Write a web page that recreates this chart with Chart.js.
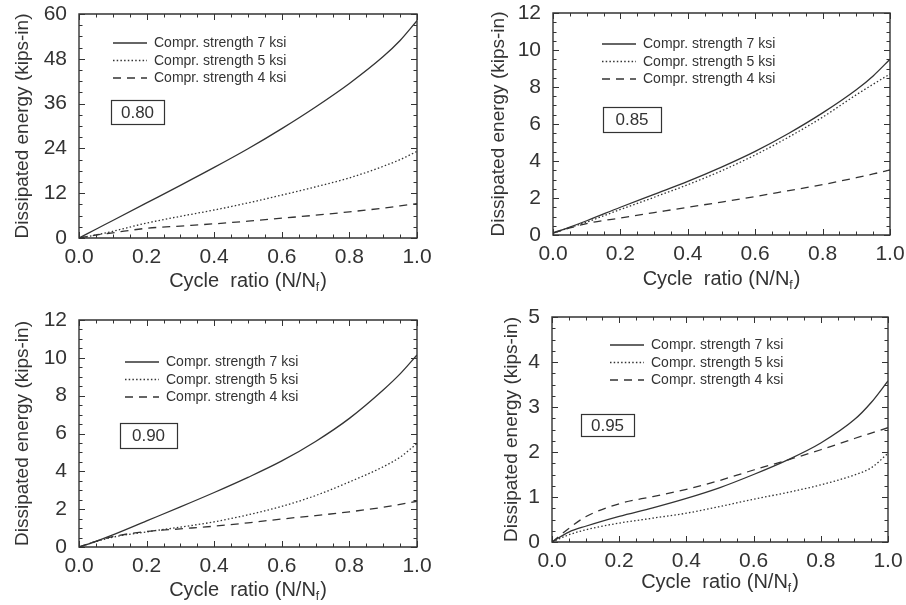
<!DOCTYPE html>
<html>
<head>
<meta charset="utf-8">
<script src="https://cdn.jsdelivr.net/npm/chart.js@4.4.1/dist/chart.umd.min.js"></script>
<style>
  html, body { margin: 0; padding: 0; background: #ffffff; }
  body { width: 906px; height: 605px; position: relative; overflow: hidden; }
  .panel { position: absolute; }
</style>
</head>
<body>
<div class="panel" style="left:0;top:0;width:453px;height:300px"><canvas id="c1"></canvas></div>
<div class="panel" style="left:453px;top:0;width:453px;height:300px"><canvas id="c2"></canvas></div>
<div class="panel" style="left:0;top:300px;width:453px;height:305px"><canvas id="c3"></canvas></div>
<div class="panel" style="left:453px;top:300px;width:453px;height:305px"><canvas id="c4"></canvas></div>
<script>
// ---------- data ----------
const cycleRatio = [0, 0.05, 0.1, 0.2, 0.3, 0.4, 0.5, 0.6, 0.7, 0.8, 0.9, 0.95, 1.0];
const seriesNames = ['Compr. strength 7 ksi', 'Compr. strength 5 ksi', 'Compr. strength 4 ksi'];
const stressLabels = ['0.80', '0.85', '0.90', '0.95'];

// Stress level 0.80
const s080_7ksi = [0, 2.35, 4.7, 9.4, 14.1, 18.9, 23.9, 29.3, 35.1, 41.4, 48.6, 52.9, 58.2];
const s080_5ksi = [0, 0.8, 1.8, 4.0, 5.8, 7.5, 9.4, 11.5, 13.7, 16.1, 19.2, 21.0, 23.2];
const s080_4ksi = [0, 0.8, 1.4, 2.6, 3.2, 3.8, 4.5, 5.3, 6.1, 7.0, 8.0, 8.6, 9.2];
// Stress level 0.85
const s085_7ksi = [0.12, 0.43, 0.77, 1.5, 2.2, 2.9, 3.67, 4.52, 5.5, 6.6, 7.85, 8.6, 9.5];
const s085_5ksi = [0.1, 0.4, 0.7, 1.38, 2.04, 2.72, 3.47, 4.33, 5.3, 6.37, 7.58, 8.15, 8.7];
const s085_4ksi = [0.1, 0.38, 0.62, 0.92, 1.21, 1.5, 1.78, 2.08, 2.4, 2.72, 3.1, 3.3, 3.52];
// Stress level 0.90
const s090_7ksi = [0, 0.3, 0.64, 1.38, 2.12, 2.88, 3.68, 4.55, 5.58, 6.8, 8.3, 9.15, 10.15];
const s090_5ksi = [0, 0.28, 0.52, 0.8, 1.05, 1.33, 1.7, 2.15, 2.72, 3.44, 4.24, 4.75, 5.47];
const s090_4ksi = [0, 0.3, 0.55, 0.82, 0.96, 1.1, 1.28, 1.48, 1.66, 1.86, 2.1, 2.25, 2.42];
// Stress level 0.95
const s095_7ksi = [0, 0.22, 0.35, 0.57, 0.76, 0.97, 1.21, 1.5, 1.82, 2.2, 2.72, 3.1, 3.58];
const s095_5ksi = [0, 0.16, 0.27, 0.42, 0.53, 0.64, 0.79, 0.95, 1.1, 1.27, 1.49, 1.65, 1.97];
const s095_4ksi = [0, 0.3, 0.56, 0.85, 1.01, 1.17, 1.37, 1.6, 1.82, 2.05, 2.3, 2.42, 2.54];

// axis ranges / ticks
const xTicks = [0.0, 0.2, 0.4, 0.6, 0.8, 1.0];
const yMax = [60, 12, 12, 5];
const yStep = [12, 2, 2, 1];
const yMinorStep = [3, 0.5, 0.5, 0.25];

// ---------- style ----------
const INK = '#333333';
const FONT = '"Liberation Sans", Arial, Helvetica, sans-serif';
const dashes = [[], [1.5, 2.2], [8, 6]];

const panels = [
  { id: 'c1', series: [s080_7ksi, s080_5ksi, s080_4ksi], yW: 79, xH: 62, pad: { top: 14, right: 36 },
    yTitleX: 23, xTitleBase: 287, leg: { x: 34, y: 29 }, box: { x: 32, y: 86, w: 53, h: 24 } },
  { id: 'c2', series: [s085_7ksi, s085_5ksi, s085_4ksi], yW: 100, xH: 65, pad: { top: 13, right: 16 },
    yTitleX: 46, xTitleBase: 285, leg: { x: 49, y: 31 }, box: { x: 50, y: 94, w: 58, h: 25 } },
  { id: 'c3', series: [s090_7ksi, s090_5ksi, s090_4ksi], yW: 79, xH: 58, pad: { top: 20, right: 36 },
    yTitleX: 23, xTitleBase: 296, leg: { x: 46, y: 42 }, box: { x: 41, y: 103, w: 57, h: 25 } },
  { id: 'c4', series: [s095_7ksi, s095_5ksi, s095_4ksi], yW: 99, xH: 63, pad: { top: 17, right: 18 },
    yTitleX: 59, xTitleBase: 288, leg: { x: 58, y: 28 }, box: { x: 29, y: 97, w: 53, h: 22 } }
];

function noScalePadding(s) {
  s.paddingTop = 0; s.paddingBottom = 0; s.paddingLeft = 0; s.paddingRight = 0;
}

const decorPlugin = {
  id: 'decor',
  afterDraw(chart, args, opts) {
    const ctx = chart.ctx;
    const a = chart.chartArea;
    const xs = chart.scales.x, ys = chart.scales.y;
    ctx.save();
    ctx.strokeStyle = INK;
    ctx.fillStyle = INK;
    ctx.setLineDash([]);
    // frame
    ctx.lineWidth = 1.4;
    ctx.beginPath();
    ctx.rect(a.left, a.top, a.right - a.left, a.bottom - a.top);
    ctx.stroke();
    // x ticks (inward, top and bottom)
    ctx.lineWidth = 1;
    for (let i = 0; i <= 20; i++) {
      const v = i * 0.05;
      const px = Math.round(xs.getPixelForValue(v)) + 0.5;
      const len = (i % 4 === 0) ? 6 : 3.5;
      ctx.beginPath();
      ctx.moveTo(px, a.bottom); ctx.lineTo(px, a.bottom - len);
      ctx.moveTo(px, a.top); ctx.lineTo(px, a.top + len);
      ctx.stroke();
    }
    // y ticks (inward, left and right)
    const n = Math.round(opts.yMax / opts.yMinor);
    const per = Math.round(opts.yStep / opts.yMinor);
    for (let i = 0; i <= n; i++) {
      const v = i * opts.yMinor;
      const py = Math.round(ys.getPixelForValue(v)) + 0.5;
      const len = (i % per === 0) ? 6 : 3.5;
      ctx.beginPath();
      ctx.moveTo(a.left, py); ctx.lineTo(a.left + len, py);
      ctx.moveTo(a.right, py); ctx.lineTo(a.right - len, py);
      ctx.stroke();
    }
    // legend
    ctx.font = '14px ' + FONT;
    ctx.textBaseline = 'middle';
    ctx.textAlign = 'left';
    chart.data.datasets.forEach((ds, i) => {
      const y = a.top + opts.leg.y + i * 17.5;
      const x0 = a.left + opts.leg.x;
      ctx.lineWidth = 1.3;
      ctx.setLineDash(ds.borderDash || []);
      ctx.beginPath();
      ctx.moveTo(x0, y); ctx.lineTo(x0 + 34, y);
      ctx.stroke();
      ctx.setLineDash([]);
      ctx.fillText(ds.label, x0 + 41, y + 0.5);
    });
    // stress label box
    const b = opts.box;
    ctx.lineWidth = 1.2;
    ctx.strokeRect(a.left + b.x + 0.5, a.top + b.y + 0.5, b.w, b.h);
    ctx.font = '17px ' + FONT;
    ctx.textAlign = 'center';
    ctx.fillText(opts.label, a.left + b.x + b.w / 2, a.top + b.y + b.h / 2 + 1);
    // y title
    ctx.save();
    ctx.translate(opts.yTitleX, (a.top + a.bottom) / 2);
    ctx.rotate(-Math.PI / 2);
    ctx.font = '19px ' + FONT;
    ctx.textAlign = 'center';
    ctx.textBaseline = 'middle';
    ctx.fillText('Dissipated energy (kips-in)', 0, 0);
    ctx.restore();
    // x title with subscript
    ctx.textBaseline = 'alphabetic';
    ctx.textAlign = 'left';
    const main = 'Cycle  ratio (N/N';
    const sub = 'f';
    const tail = ')';
    ctx.font = '20px ' + FONT;
    const wMain = ctx.measureText(main).width;
    const wTail = ctx.measureText(tail).width;
    ctx.font = '12px ' + FONT;
    const wSub = ctx.measureText(sub).width;
    const total = wMain + wSub + 1 + wTail;
    const x = (a.left + a.right) / 2 - total / 2;
    const base = opts.xTitleBase;
    ctx.font = '20px ' + FONT;
    ctx.fillText(main, x, base);
    ctx.font = '12px ' + FONT;
    ctx.fillText(sub, x + wMain, base + 4);
    ctx.font = '20px ' + FONT;
    ctx.fillText(tail, x + wMain + wSub + 1, base);
    ctx.restore();
  }
};

panels.forEach((p, k) => {
  const datasets = p.series.map((vals, i) => ({
    label: seriesNames[i],
    data: cycleRatio.map((x, j) => ({ x: x, y: vals[j] })),
    borderColor: INK,
    borderWidth: 1.3,
    borderDash: dashes[i],
    pointRadius: 0,
    fill: false,
    cubicInterpolationMode: 'monotone'
  }));
  new Chart(document.getElementById(p.id), {
    type: 'line',
    data: { datasets },
    plugins: [decorPlugin],
    options: {
      responsive: true,
      maintainAspectRatio: false,
      animation: false,
      devicePixelRatio: 1,
      layout: { padding: { top: p.pad.top, right: p.pad.right, left: 0, bottom: 0 } },
      plugins: {
        legend: { display: false },
        tooltip: { enabled: false },
        decor: {
          yMax: yMax[k], yStep: yStep[k], yMinor: yMinorStep[k],
          leg: p.leg, box: p.box, label: stressLabels[k],
          yTitleX: p.yTitleX, xTitleBase: p.xTitleBase
        }
      },
      scales: {
        x: {
          type: 'linear', min: 0, max: 1,
          afterFit(s) { s.height = p.xH; noScalePadding(s); },
          afterBuildTicks(s) { s.ticks = xTicks.map(v => ({ value: v })); },
          grid: { display: false, drawTicks: false },
          border: { display: false },
          ticks: { color: INK, font: { family: FONT, size: 21 }, padding: 7,
                   maxRotation: 0, autoSkip: false,
                   callback: v => Number(v).toFixed(1) }
        },
        y: {
          type: 'linear', min: 0, max: yMax[k],
          afterFit(s) { s.width = p.yW; noScalePadding(s); },
          grid: { display: false, drawTicks: false },
          border: { display: false },
          ticks: { color: INK, font: { family: FONT, size: 21 }, padding: 12,
                   stepSize: yStep[k], autoSkip: false,
                   callback: v => String(v) }
        }
      }
    }
  });
});
</script>
</body>
</html>
